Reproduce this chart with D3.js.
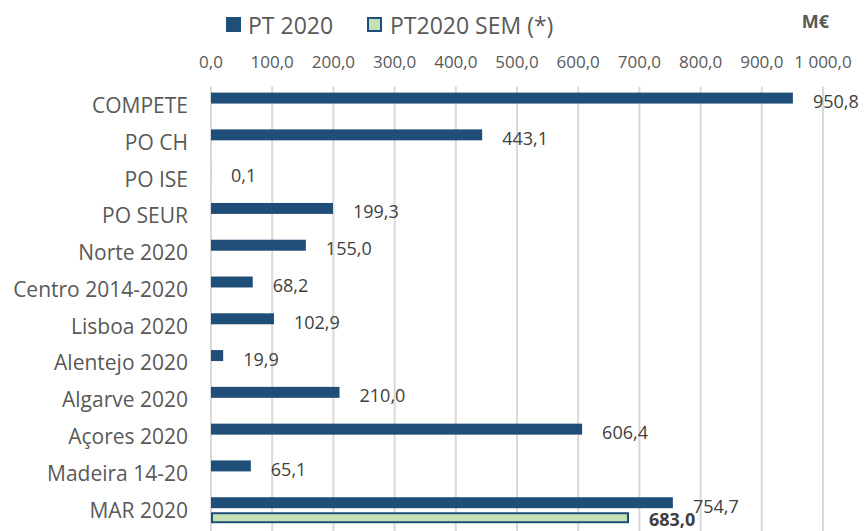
<!DOCTYPE html>
<html>
<head>
<meta charset="utf-8">
<style>
  body { margin: 0; background: #fff; }
  svg text { font-family: "Open Sans", sans-serif; fill: #595959; }
</style>
</head>
<body>
<div id="chart"></div>
<script src="https://d3js.org/d3.v7.min.js"></script>
<script>
'use strict';

var categories = ['COMPETE', 'PO CH', 'PO ISE', 'PO SEUR', 'Norte 2020', 'Centro 2014-2020',
  'Lisboa 2020', 'Alentejo 2020', 'Algarve 2020', 'Açores 2020', 'Madeira 14-20', 'MAR 2020'];
var pt2020 = [950.8, 443.1, 0.1, 199.3, 155.0, 68.2, 102.9, 19.9, 210.0, 606.4, 65.1, 754.7];
var pt2020Sem = [null, null, null, null, null, null, null, null, null, null, null, 683.0];
var seriesNames = ['PT 2020', 'PT2020 SEM (*)'];
var ticks = [0, 100, 200, 300, 400, 500, 600, 700, 800, 900, 1000];

var width = 864, height = 531;
var plotLeft = 211, plotRight = 823, plotTop = 86.6, plotBottom = 528;

var fmt = function(v) {
  var s = d3.format(',.1f')(v);
  return s.replace(/,/g, ' ').replace('.', ',');
};

var svg = d3.select('#chart').append('svg')
  .attr('width', width).attr('height', height);

var x = d3.scaleLinear().domain([0, 1000]).range([plotLeft, plotRight]);
var y = d3.scaleBand().domain(categories).range([plotTop, plotBottom]);
var sub = d3.scaleBand().domain([0, 1]).range([6, 32]).paddingInner(0.27);

// gridlines
svg.append('g').selectAll('line').data(ticks).enter().append('line')
  .attr('x1', function(d) { return x(d); })
  .attr('x2', function(d) { return x(d); })
  .attr('y1', plotTop).attr('y2', height)
  .attr('stroke', '#d9d9d9').attr('stroke-width', 2);

// top axis labels
svg.append('g').selectAll('text').data(ticks).enter().append('text')
  .attr('x', function(d) { return x(d); })
  .attr('y', 61)
  .attr('text-anchor', 'middle')
  .attr('dominant-baseline', 'central')
  .style('font-size', '17px')
  .text(function(d) { return fmt(d); });

// category labels
svg.append('g').selectAll('text').data(categories).enter().append('text')
  .attr('x', 188)
  .attr('y', function(d) { return y(d) + y.bandwidth() / 2; })
  .attr('text-anchor', 'end')
  .attr('dominant-baseline', 'central')
  .style('font-size', '21px')
  .text(function(d) { return d; });

var rows = categories.map(function(c, i) { return { cat: c, a: pt2020[i], b: pt2020Sem[i] }; });

// PT 2020 bars
svg.append('g').selectAll('rect').data(rows).enter().append('rect')
  .attr('x', x(0))
  .attr('y', function(d) { return y(d.cat) + sub(0); })
  .attr('width', function(d) { return x(d.a) - x(0); })
  .attr('height', sub.bandwidth())
  .attr('fill', '#1f4e79');

svg.append('g').selectAll('text').data(rows).enter().append('text')
  .attr('x', function(d) { return x(d.a) + 20; })
  .attr('y', function(d) { return y(d.cat) + sub(0) + sub.bandwidth() / 2 + 3; })
  .attr('dominant-baseline', 'central')
  .style('font-size', '18px')
  .style('fill', '#404040')
  .text(function(d) { return fmt(d.a); });

// PT2020 SEM bars
var semRows = rows.filter(function(d) { return d.b != null; });
svg.append('g').selectAll('rect').data(semRows).enter().append('rect')
  .attr('x', x(0) + 1)
  .attr('y', function(d) { return y(d.cat) + sub(1) + 1; })
  .attr('width', function(d) { return x(d.b) - x(0) - 2; })
  .attr('height', sub.bandwidth() - 2)
  .attr('fill', '#c5e0b4')
  .attr('stroke', '#1f4e79').attr('stroke-width', 2);

svg.append('g').selectAll('text').data(semRows).enter().append('text')
  .attr('x', function(d) { return x(d.b) + 20; })
  .attr('y', function(d) { return y(d.cat) + sub(1) + sub.bandwidth() / 2 + 1.5; })
  .attr('dominant-baseline', 'central')
  .style('font-size', '18px')
  .style('font-weight', 'bold')
  .style('fill', '#404040')
  .text(function(d) { return fmt(d.b); });

// legend
var legend = svg.append('g');
legend.append('rect').attr('x', 226).attr('y', 17).attr('width', 15).attr('height', 15)
  .attr('fill', '#1f4e79');
legend.append('text').attr('x', 248).attr('y', 24.5).attr('dominant-baseline', 'central')
  .style('font-size', '23px').text(seriesNames[0]);
legend.append('rect').attr('x', 368).attr('y', 18).attr('width', 13).attr('height', 13)
  .attr('fill', '#c5e0b4').attr('stroke', '#1f4e79').attr('stroke-width', 2);
legend.append('text').attr('x', 390).attr('y', 24.5).attr('dominant-baseline', 'central')
  .style('font-size', '23px').text(seriesNames[1]);

svg.append('text').attr('x', 829).attr('y', 21).attr('text-anchor', 'end')
  .attr('dominant-baseline', 'central')
  .style('font-size', '18px').style('font-weight', 'bold').text('M€');
</script>
</body>
</html>
